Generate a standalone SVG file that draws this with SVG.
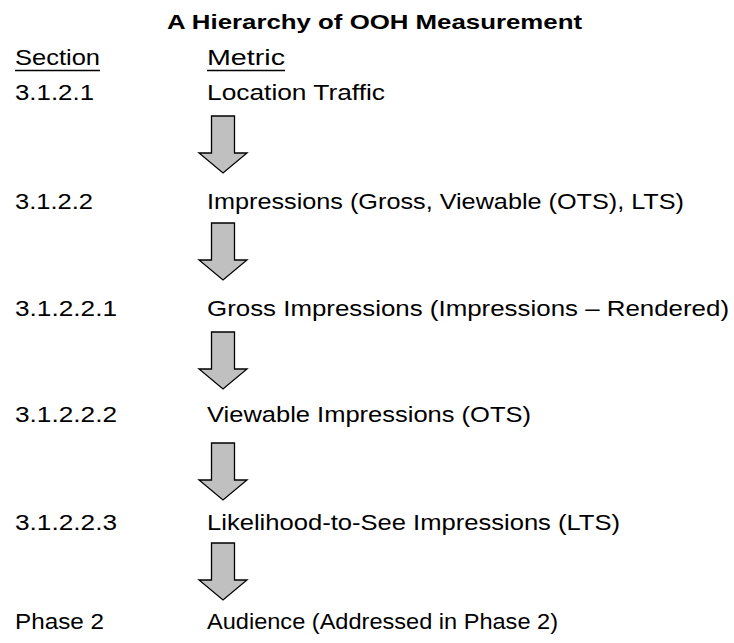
<svg xmlns="http://www.w3.org/2000/svg" width="734" height="643" viewBox="0 0 734 643">
<style>
text{font-family:"Liberation Sans",Arial,sans-serif;font-size:22px;fill:#000}
.t{font-weight:bold;font-size:21px}
.ul{stroke:#000;stroke-width:1.4}
.arr{fill:#c0c0c0;stroke:#000;stroke-width:1.3;stroke-linejoin:miter}
</style>
<defs>
<path id="a" class="arr" d="M211.5,0 H234.5 V37 H247 L223,57 L199,37 H211.5 Z"/>
</defs>
<rect width="734" height="643" fill="#fff"/>
<g id="title"><text class="t" x="167" y="29" textLength="415" lengthAdjust="spacingAndGlyphs">A Hierarchy of OOH Measurement</text></g>
<g id="header">
<text x="15" y="65" textLength="85" lengthAdjust="spacingAndGlyphs">Section</text>
<line class="ul" x1="15" y1="70.5" x2="100" y2="70.5"/>
<text x="207" y="65" textLength="78" lengthAdjust="spacingAndGlyphs">Metric</text>
<line class="ul" x1="207" y1="70.5" x2="285" y2="70.5"/>
</g>
<g id="row1"><text x="15" y="100" textLength="79" lengthAdjust="spacingAndGlyphs">3.1.2.1</text><text x="207" y="100" textLength="178" lengthAdjust="spacingAndGlyphs">Location Traffic</text></g>
<g id="row2"><text x="15" y="209" textLength="78" lengthAdjust="spacingAndGlyphs">3.1.2.2</text><text x="207" y="209" textLength="477" lengthAdjust="spacingAndGlyphs">Impressions (Gross, Viewable (OTS), LTS)</text></g>
<g id="row3"><text x="15" y="316" textLength="102" lengthAdjust="spacingAndGlyphs">3.1.2.2.1</text><text x="207" y="316" textLength="522" lengthAdjust="spacingAndGlyphs">Gross Impressions (Impressions – Rendered)</text></g>
<g id="row4"><text x="15" y="422" textLength="102" lengthAdjust="spacingAndGlyphs">3.1.2.2.2</text><text x="207" y="422" textLength="324" lengthAdjust="spacingAndGlyphs">Viewable Impressions (OTS)</text></g>
<g id="row5"><text x="15" y="530" textLength="102" lengthAdjust="spacingAndGlyphs">3.1.2.2.3</text><text x="207" y="530" textLength="413" lengthAdjust="spacingAndGlyphs">Likelihood-to-See Impressions (LTS)</text></g>
<g id="row6"><text x="15" y="629" textLength="89" lengthAdjust="spacingAndGlyphs">Phase 2</text><text x="207" y="629" textLength="351" lengthAdjust="spacingAndGlyphs">Audience (Addressed in Phase 2)</text></g>
<g id="connectors">
<use href="#a" transform="translate(0,116)"/>
<use href="#a" transform="translate(0,223)"/>
<use href="#a" transform="translate(0,332)"/>
<use href="#a" transform="translate(0,443)"/>
<use href="#a" transform="translate(0,543)"/>
</g>
</svg>
